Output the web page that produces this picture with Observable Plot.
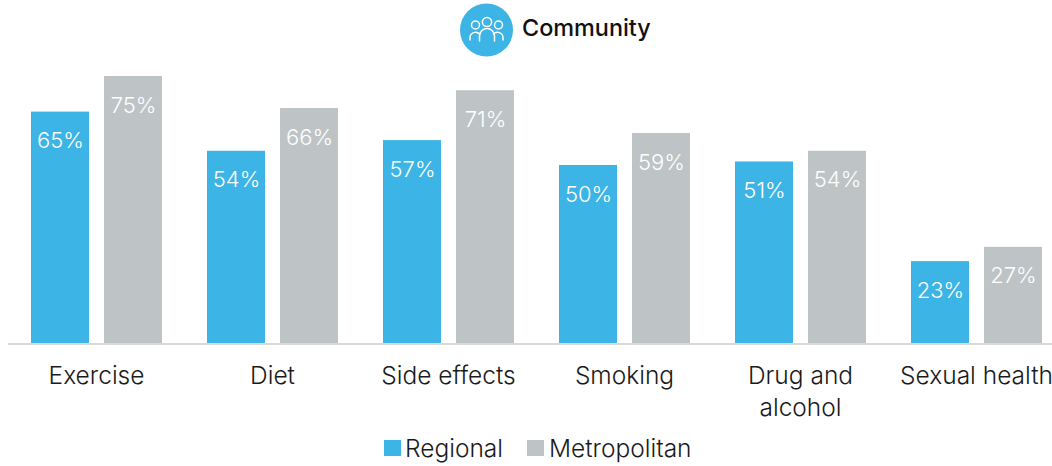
<!DOCTYPE html>
<html>
<head>
<meta charset="utf-8">
<script src="https://cdn.jsdelivr.net/npm/d3@7"></script>
<script src="https://cdn.jsdelivr.net/npm/@observablehq/plot@0.6"></script>
<style>
  html, body { margin: 0; padding: 0; background: #fff; width: 1052px; height: 466px; overflow: hidden; }
  body { font-family: "Inter", sans-serif; color: #1a1a1a; }
  #header { position: relative; height: 60px; }
  #header svg { position: absolute; left: 460px; top: 3px; }
  #header span { position: absolute; left: 522px; top: 13px; font-size: 23.4px; line-height: 30px; font-weight: 500; color: #111; }
  #chart svg { display: block; }
  #legend { position: relative; height: 36px; font-size: 24.5px; line-height: 36px; font-weight: 300; }
  #legend i { position: absolute; top: 10px; width: 16.5px; height: 16px; }
  #legend span { position: absolute; top: 0; }
</style>
</head>
<body>
<div id="header">
  <svg width="54" height="54" viewBox="0 0 54 54">
    <circle cx="26.5" cy="27" r="26.5" fill="#3cb4e5"/>
    <g fill="none" stroke="#fff" stroke-width="1.5" stroke-linecap="round">
      <circle cx="15.5" cy="22" r="4"/>
      <circle cx="27" cy="19" r="4.6"/>
      <circle cx="38.5" cy="22" r="4"/>
      <path d="M10 37 v-2.5 a5.5 5.5 0 0 1 9.5 -3.5"/>
      <path d="M43 37 v-2.5 a5.5 5.5 0 0 0 -9.5 -3.5"/>
      <path d="M19.5 38 v-5 a7.5 7.5 0 0 1 15 0 v5"/>
    </g>
  </svg>
  <span>Community</span>
</div>
<div id="chart"></div>
<div id="legend">
  <i style="left:384px;background:#3cb4e5"></i><span style="left:405px">Regional</span>
  <i style="left:527px;background:#bec3c6"></i><span style="left:549px">Metropolitan</span>
</div>
<script>
// Share of respondents by health topic, split by location
const topics = ["Exercise", "Diet", "Side effects", "Smoking", "Drug and alcohol", "Sexual health"];
const regional = [65, 54, 57, 50, 51, 23];
const metropolitan = [75, 66, 71, 59, 54, 27];
const seriesNames = ["Regional", "Metropolitan"];
const seriesColors = ["#3cb4e5", "#bec3c6"];

const rows = topics.flatMap((topic, i) => [
  {topic, series: seriesNames[0], value: regional[i]},
  {topic, series: seriesNames[1], value: metropolitan[i]}
]);

const wrapped = {"Drug and alcohol": "Drug and\nalcohol"};

const plot = Plot.plot({
  width: 1052,
  height: 370,
  marginTop: 16,
  marginBottom: 87,
  marginLeft: 8,
  marginRight: -12,
  style: {background: "transparent", fontFamily: "Inter, sans-serif"},
  fx: {domain: topics, padding: 0, label: null, axis: null},
  x: {domain: seriesNames, paddingInner: 0.21, paddingOuter: 0.31, axis: null},
  y: {domain: [0, 75], axis: null},
  color: {domain: seriesNames, range: seriesColors},
  marks: [
    Plot.barY(rows, {fx: "topic", x: "series", y: "value", fill: "series"}),
    Plot.ruleY([0], {stroke: "#d9d9d9", strokeWidth: 2, dy: 0.5}),
    Plot.text(rows, {
      fx: "topic", x: "series", y: "value",
      text: d => `${d.value}%`,
      dy: 29, fill: "#fff", fontSize: 22, fontWeight: 300
    }),
    Plot.text(topics, {
      fx: d => d,
      frameAnchor: "bottom",
      lineAnchor: "top",
      dy: 18,
      text: d => wrapped[d] ?? d,
      fill: "#1a1a1a",
      fontSize: 24.5,
      fontWeight: 300,
      lineHeight: 1.31
    })
  ]
});
document.getElementById("chart").append(plot);
</script>
</body>
</html>
